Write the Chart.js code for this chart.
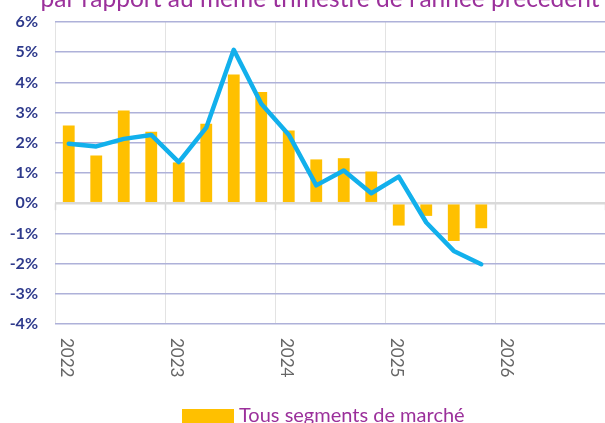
<!DOCTYPE html>
<html>
<head>
<meta charset="utf-8">
<script src="https://cdn.jsdelivr.net/npm/chart.js@4"></script>
<style>
  html, body { margin: 0; padding: 0; background: #ffffff; overflow: hidden; }
  #wrap { position: relative; width: 605px; height: 423px; }
</style>
</head>
<body>
<div id="wrap"><canvas id="chart"></canvas></div>
<script>
// Quarterly categories, 2022 T1 -> 2026 T4
const quarters = [
  '2022T1', '2022T2', '2022T3', '2022T4',
  '2023T1', '2023T2', '2023T3', '2023T4',
  '2024T1', '2024T2', '2024T3', '2024T4',
  '2025T1', '2025T2', '2025T3', '2025T4',
  '2026T1', '2026T2', '2026T3', '2026T4'
];
const yearLabels = ['2022', '2023', '2024', '2025', '2026'];

// Bars: tous segments de marché (%)
const allSegments = [
  2.57, 1.58, 3.07, 2.37,
  1.35, 2.63, 4.26, 3.68,
  2.41, 1.45, 1.49, 1.05,
  -0.74, -0.42, -1.25, -0.83,
  null, null, null, null
];
// Line series (%)
const lineSeries = [
  1.97, 1.88, 2.13, 2.26,
  1.36, 2.50, 5.08, 3.29,
  2.27, 0.59, 1.08, 0.33,
  0.88, -0.64, -1.58, -2.02,
  null, null, null, null
];

const titleText = "par rapport au même trimestre de l'année précédent";
const legendText = 'Tous segments de marché';
const purple = '#9b309b';

// Title (cut at top), rotated year labels, axis tick marks and legend
const decorations = {
  id: 'decorations',
  afterDraw(chart) {
    const { ctx, chartArea, scales } = chart;
    const x = scales.x, y = scales.y;
    ctx.save();

    // title, cropped by the top edge
    ctx.fillStyle = purple;
    ctx.font = '24.5px Lato';
    ctx.textAlign = 'center';
    ctx.textBaseline = 'alphabetic';
    ctx.fillText(titleText, 320, 6.5);

    // small tick marks below the zero line at year boundaries
    const y0 = y.getPixelForValue(0);
    ctx.strokeStyle = '#d9d9d9';
    ctx.lineWidth = 1.5;
    const slot = (chartArea.right - chartArea.left) / quarters.length;
    for (let i = 0; i <= quarters.length; i += 4) {
      const px = Math.round(chartArea.left + i * slot) + 0.5;
      ctx.beginPath();
      ctx.moveTo(px, y0);
      ctx.lineTo(px, y0 + 7);
      ctx.stroke();
    }

    // year labels, rotated clockwise
    ctx.fillStyle = '#666666';
    ctx.font = '17px Lato';
    ctx.textAlign = 'left';
    ctx.textBaseline = 'middle';
    yearLabels.forEach((lab, i) => {
      const px = x.getPixelForValue(i * 4) - 2;
      ctx.save();
      ctx.translate(px, chartArea.bottom + 14);
      ctx.rotate(Math.PI / 2);
      ctx.fillText(lab, 0, 0);
      ctx.restore();
    });

    // legend (bar series)
    ctx.fillStyle = '#FFC000';
    ctx.fillRect(182, 409, 52, 16);
    ctx.fillStyle = purple;
    ctx.font = '20px Lato';
    ctx.textAlign = 'left';
    ctx.textBaseline = 'alphabetic';
    ctx.fillText(legendText, 239, 422);

    ctx.restore();
  }
};

new Chart(document.getElementById('chart'), {
  type: 'bar',
  data: {
    labels: quarters,
    datasets: [
      {
        type: 'line',
        label: 'Série',
        data: lineSeries,
        borderColor: '#12b0ec',
        borderWidth: 4.5,
        pointRadius: 0,
        tension: 0,
        borderJoinStyle: 'round',
        borderCapStyle: 'round',
        order: 0
      },
      {
        type: 'bar',
        label: legendText,
        data: allSegments,
        backgroundColor: '#FFC000',
        barPercentage: 0.43,
        categoryPercentage: 1.0,
        order: 1
      }
    ]
  },
  plugins: [decorations],
  options: {
    responsive: true,
    maintainAspectRatio: false,
    animation: false,
    layout: { padding: { top: 22, right: 0, bottom: 0, left: 0 } },
    plugins: {
      legend: { display: false },
      title: { display: false },
      tooltip: { enabled: false }
    },
    scales: {
      x: {
        offset: true,
        border: { display: false },
        grid: {
          offset: true,
          drawTicks: false,
          lineWidth: 1,
          color: (c) => (c.index % 4 === 0 ? '#e3e3e3' : 'rgba(0,0,0,0)')
        },
        ticks: { display: false },
        afterFit(scale) { scale.height = 99; }
      },
      y: {
        min: -4,
        max: 6,
        border: { display: false },
        grid: {
          drawTicks: true,
          tickLength: 17,
          tickColor: 'rgba(0,0,0,0)',
          color: (c) => (c.tick && c.tick.value === 0 ? '#d9d9d9' : '#aeb1d9'),
          lineWidth: (c) => (c.tick && c.tick.value === 0 ? 2.5 : 1.5)
        },
        ticks: {
          stepSize: 1,
          padding: 0,
          color: '#2e3a8c',
          font: { family: 'Lato', size: 16, weight: 'bold' },
          callback: (v) => v + '%'
        },
        afterFit(scale) { scale.width = 55; }
      }
    }
  }
});
</script>
</body>
</html>
